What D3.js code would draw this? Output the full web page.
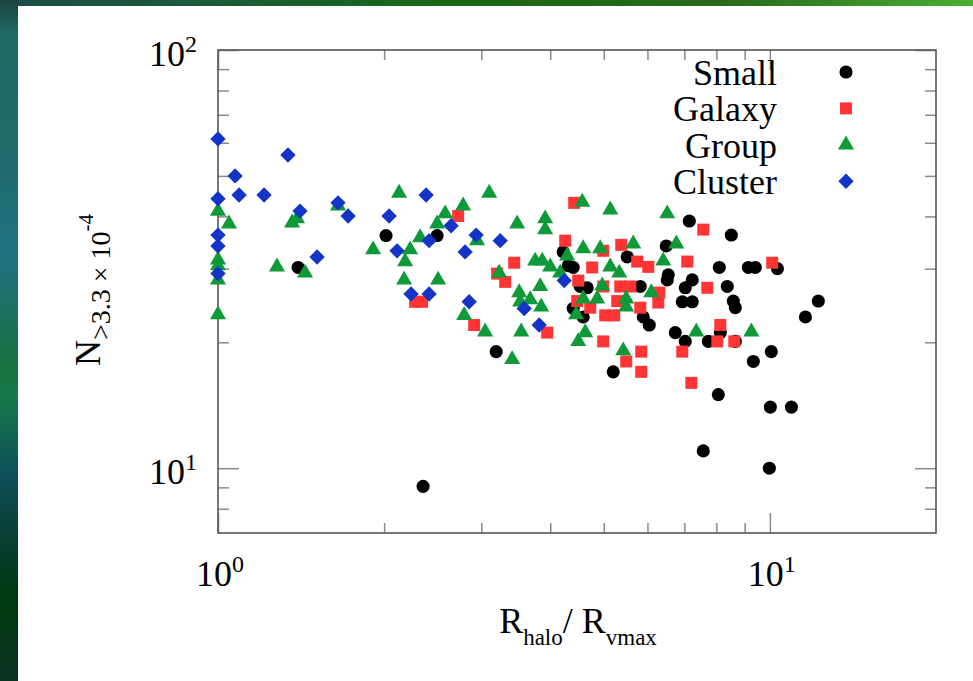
<!DOCTYPE html>
<html>
<head>
<meta charset="utf-8">
<script src="https://cdn.jsdelivr.net/npm/d3@7"></script>
<style>
body{margin:0;background:#fff;}
text{font-family:"Liberation Serif","Times New Roman",serif;fill:#000;}
</style>
</head>
<body>
<svg id="chart" width="973" height="681"></svg>
<script>
// values
var smallX = [1.397, 2.016, 2.495, 3.192, 2.353, 4.222, 4.311, 4.402, 4.533, 4.667, 4.402, 4.589, 5.515, 6.49, 7.145, 8.514, 8.098, 9.141, 9.411, 10.32, 6.545, 6.517, 7.234, 7.026, 8.372, 8.585, 8.657, 6.939, 7.234, 5.823, 5.896, 6.046, 6.739, 7.026, 7.735, 8.132, 8.657, 10.06, 9.333, 5.202, 8.065, 10.02, 10.94, 7.574, 9.978, 11.6, 12.24];
var smallY = [30.2, 36.0, 36.0, 19.0, 9.05, 32.9, 30.5, 30.2, 27.2, 27.0, 24.1, 23.0, 32.0, 34.0, 39.0, 36.1, 30.2, 30.2, 30.2, 30.0, 29.0, 28.2, 28.2, 27.0, 27.2, 25.1, 24.2, 25.0, 25.0, 27.2, 23.0, 22.0, 21.1, 20.1, 20.1, 21.1, 20.1, 19.0, 18.0, 17.0, 15.0, 14.0, 14.0, 11.0, 10.0, 23.0, 25.1];

var galaxyX = [2.276, 2.343, 2.724, 2.912, 3.205, 3.314, 3.441, 3.949, 4.257, 4.42, 7.574, 5.379, 4.989, 5.75, 6.021, 7.085, 4.765, 10.1, 4.495, 4.989, 5.357, 5.585, 6.304, 5.289, 6.278, 4.476, 4.726, 5.823, 5.031, 5.224, 8.132, 8.03, 8.621, 7.702, 4.989, 5.847, 6.939, 5.492, 5.847, 7.205];
var galaxyY = [25.0, 25.0, 40.1, 22.0, 29.2, 27.9, 31.0, 21.1, 35.0, 43.1, 37.2, 34.2, 33.1, 31.2, 30.3, 31.2, 30.2, 31.0, 28.1, 27.2, 27.2, 27.2, 26.3, 25.1, 24.9, 25.1, 24.2, 24.2, 23.2, 23.2, 22.0, 20.1, 20.1, 27.0, 20.1, 19.0, 19.0, 18.0, 17.0, 16.0];

var groupX = [1, 1.047, 1, 1, 1, 1, 1.279, 1.438, 1.362, 1.391, 1.65, 1.91, 2.129, 2.229, 2.183, 2.174, 2.505, 2.324, 2.495, 2.58, 2.781, 3.1, 2.948, 3.484, 3.916, 3.916, 3.232, 3.756, 3.868, 3.999, 4.17, 4.293, 3.836, 3.514, 3.679, 3.528, 3.852, 2.793, 3.048, 3.543, 3.412, 4.571, 5.138, 6.517, 6.767, 5.655, 4.589, 4.927, 5.138, 5.334, 6.409, 4.968, 4.589, 4.866, 5.492, 5.492, 6.097, 4.457, 4.628, 4.495, 5.424, 7.356, 9.256];
var groupY = [41.2, 38.4, 31.5, 30.5, 28.2, 23.3, 30.3, 29.3, 38.6, 39.5, 42.4, 33.3, 45.5, 33.3, 31.2, 28.2, 28.2, 35.6, 38.4, 40.6, 42.4, 45.5, 35.0, 38.4, 39.5, 37.2, 29.3, 31.3, 31.3, 30.3, 29.3, 32.2, 27.2, 26.3, 25.3, 25.0, 24.3, 23.2, 21.2, 21.2, 18.2, 43.3, 41.5, 40.6, 34.4, 34.4, 33.5, 33.5, 30.3, 29.3, 31.3, 27.3, 25.4, 25.4, 25.4, 24.3, 26.3, 23.3, 21.1, 20.1, 19.1, 21.2, 21.2];

var clusterX = [1, 1.074, 1.092, 1.212, 1.339, 1.408, 1.512, 1.65, 1.721, 1, 1, 1, 1, 2.042, 2.111, 2.383, 2.413, 2.238, 2.413, 2.645, 2.936, 3.246, 2.804, 2.852, 3.588, 3.82, 4.24];
var clusterY = [61.3, 50.0, 45.0, 45.0, 56.1, 41.2, 32.0, 43.1, 40.1, 44.1, 36.1, 34.0, 29.2, 40.1, 33.1, 45.0, 35.0, 26.1, 26.1, 38.0, 36.1, 35.0, 32.9, 25.0, 24.1, 22.0, 28.1];

var legendLabels = ["Small", "Galaxy", "Group", "Cluster"];
var xMajorTicks = [1, 10];
var xMinorTicks = [2, 3, 4, 5, 6, 7, 8, 9];
var yMajorTicks = [10, 100];
var yMinorTicks = [8, 9, 20, 30, 40, 50, 60, 70, 80, 90];

var svg = d3.select("#chart");
var W = 973, H = 681;
var pLeft = 218, pRight = 936, pTop = 50, pBottom = 533;

// slide background
var defs = svg.append("defs");
var gv = defs.append("linearGradient").attr("id", "gv").attr("x1", 0).attr("y1", 0).attr("x2", 0).attr("y2", 1);
[[0, "#1b4440"], [0.05, "#1f6a64"], [0.25, "#1f6c6e"], [0.37, "#1f7282"], [0.45, "#1f6f66"], [0.53, "#18703f"], [0.58, "#157a48"], [0.7, "#0d4e58"], [0.8, "#083c30"], [0.88, "#003a0c"], [1, "#0b3222"]]
  .forEach(function(s){ gv.append("stop").attr("offset", s[0]).attr("stop-color", s[1]); });
var gh = defs.append("linearGradient").attr("id", "gh").attr("x1", 0).attr("y1", 0).attr("x2", 1).attr("y2", 0);
[[0, "#1c4a46"], [0.2, "#1d5a3c"], [0.45, "#196614"], [0.75, "#2a6a1e"], [1, "#4aae30"]]
  .forEach(function(s){ gh.append("stop").attr("offset", s[0]).attr("stop-color", s[1]); });

svg.append("rect").attr("x", 0).attr("y", 0).attr("width", W).attr("height", 6).attr("fill", "url(#gh)");
svg.append("rect").attr("x", 0).attr("y", 0).attr("width", 18).attr("height", H).attr("fill", "url(#gv)");

var x = d3.scaleLog().domain([1, 20]).range([pLeft, pRight]);
var y = d3.scaleLog().domain([7, 100]).range([pBottom, pTop]);

function tickAxis(axis, tr, vals, len){
  var g = svg.append("g")
    .attr("transform", tr)
    .call(axis.tickValues(vals).tickSize(-len).tickFormat(""));
  g.select(".domain").remove();
  g.selectAll(".tick line").attr("stroke", "#8a8a8a").attr("stroke-width", 1.5);
}

tickAxis(d3.axisLeft(y), "translate(" + pLeft + ",0)", yMinorTicks, 11);
tickAxis(d3.axisLeft(y), "translate(" + pLeft + ",0)", yMajorTicks, 21);
tickAxis(d3.axisRight(y), "translate(" + pRight + ",0)", yMinorTicks, 11);
tickAxis(d3.axisRight(y), "translate(" + pRight + ",0)", yMajorTicks, 21);
tickAxis(d3.axisBottom(x), "translate(0," + pBottom + ")", xMinorTicks, 10);
tickAxis(d3.axisBottom(x), "translate(0," + pBottom + ")", xMajorTicks, 20);
tickAxis(d3.axisTop(x), "translate(0," + pTop + ")", xMinorTicks, 10);
tickAxis(d3.axisTop(x), "translate(0," + pTop + ")", xMajorTicks, 20);

svg.append("rect")
  .attr("x", pLeft).attr("y", pTop)
  .attr("width", pRight - pLeft).attr("height", pBottom - pTop)
  .attr("fill", "none").attr("stroke", "#555").attr("stroke-width", 1.6);

// tick labels 10^n
function powLabel(t, px, py, anchor){
  var txt = svg.append("text")
    .attr("x", px).attr("y", py)
    .attr("text-anchor", anchor)
    .attr("font-size", 36);
  txt.append("tspan").text("10");
  txt.append("tspan").attr("font-size", 24).attr("dy", -14).text(Math.round(Math.log10(t)));
}
xMajorTicks.forEach(function(t){ powLabel(t, x(t) + 2, 586, "middle"); });
yMajorTicks.forEach(function(t){ powLabel(t, 197, y(t) + 16, "end"); });

// points
var series = [
  {xs: smallX, ys: smallY, type: d3.symbolCircle, size: 135, color: "#000000", rot: 0},
  {xs: galaxyX, ys: galaxyY, type: d3.symbolSquare, size: 144, color: "#ff3535", rot: 0},
  {xs: groupX, ys: groupY, type: d3.symbolTriangle, size: 112, color: "#0e9a38", rot: 0},
  {xs: clusterX, ys: clusterY, type: d3.symbolSquare, size: 118, color: "#1434c8", rot: 45}
];

series.forEach(function(s, k){
  var sym = d3.symbol().type(s.type).size(s.size);
  svg.append("g").selectAll("path")
    .data(s.xs)
    .enter()
    .append("path")
    .attr("d", sym)
    .attr("fill", s.color)
    .attr("transform", function(d, i){
      return "translate(" + x(d) + "," + y(s.ys[i]) + ") rotate(" + s.rot + ")";
    });

  // legend entry
  var ly = 85 + k * 36.4;
  svg.append("text")
    .attr("x", 777).attr("y", ly)
    .attr("text-anchor", "end")
    .attr("font-size", 36)
    .text(legendLabels[k]);
  svg.append("path")
    .attr("d", sym)
    .attr("fill", s.color)
    .attr("transform", "translate(846," + (ly - 13) + ") rotate(" + s.rot + ")");
});

// axis titles
var xt = svg.append("text")
  .attr("x", 578).attr("y", 633)
  .attr("text-anchor", "middle")
  .attr("font-size", 36);
xt.append("tspan").text("R");
xt.append("tspan").attr("font-size", 23).attr("dy", 12).text("halo");
xt.append("tspan").attr("dy", -12).text("/ R");
xt.append("tspan").attr("font-size", 23).attr("dy", 12).text("vmax");

var yt = svg.append("text")
  .attr("transform", "translate(100,290) rotate(-90)")
  .attr("text-anchor", "middle")
  .attr("font-size", 36);
yt.append("tspan").text("N");
yt.append("tspan").attr("font-size", 28).attr("dy", 10).text(">3.3 \u00d7 10");
yt.append("tspan").attr("font-size", 21).attr("dy", -17).text("-4");
</script>
</body>
</html>
